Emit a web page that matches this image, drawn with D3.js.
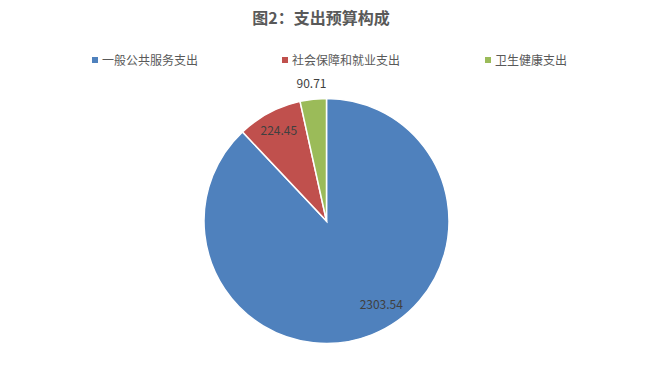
<!DOCTYPE html>
<html>
<head>
<meta charset="utf-8">
<script src="https://cdn.jsdelivr.net/npm/d3@7"></script>
<style>
  body { margin: 0; background: #fff; }
  text { font-family: "Noto Sans CJK SC", "Microsoft YaHei", sans-serif; }
</style>
</head>
<body>
<div id="chart"></div>
<script>
// data
var categories = ["一般公共服务支出", "社会保障和就业支出", "卫生健康支出"];
var values = [2303.54, 224.45, 90.71];
var colors = ["#4F81BD", "#C0504D", "#9BBB59"];

var width = 654, height = 377;
var cx = 326.5, cy = 221, radius = 122.5;

var svg = d3.select("#chart")
  .append("svg")
    .attr("width", width)
    .attr("height", height);

// title
svg.append("text")
    .attr("x", width / 2 - 6)
    .attr("y", 24)
    .attr("text-anchor", "middle")
    .style("font-size", "16px")
    .style("font-weight", "bold")
    .style("fill", "#595959")
    .text("图2：支出预算构成");

// legend
var legendX = [92, 282, 485];
var legend = svg.append("g")
  .selectAll("g")
  .data(categories)
  .enter()
  .append("g")
    .attr("transform", function(d, i) { return "translate(" + legendX[i] + ",57)"; });

legend.append("rect")
    .attr("width", 6)
    .attr("height", 6)
    .style("fill", function(d, i) { return colors[i]; });

legend.append("text")
    .attr("x", 10)
    .attr("y", 7.5)
    .style("font-size", "12px")
    .style("fill", "#595959")
    .text(function(d) { return d; });

// pie
var pie = d3.pie().sort(null);
var arcs = pie(values);
var arc = d3.arc().innerRadius(0).outerRadius(radius);

var g = svg.append("g")
    .attr("transform", "translate(" + cx + "," + cy + ")");

g.selectAll("path")
  .data(arcs)
  .enter()
  .append("path")
    .attr("d", arc)
    .style("fill", function(d, i) { return colors[i]; })
    .style("stroke", "#fff")
    .style("stroke-width", 1.5);

// data labels (best-fit style placement)
var labelFrac = [0.4635, 0.5, 0.5];
var labelR = [100, 102, 138];
g.selectAll(".lbl")
  .data(arcs)
  .enter()
  .append("text")
    .attr("class", "lbl")
    .attr("text-anchor", "middle")
    .attr("dy", "0.35em")
    .attr("x", function(d, i) {
      var a = d.startAngle + labelFrac[i] * (d.endAngle - d.startAngle);
      return labelR[i] * Math.sin(a);
    })
    .attr("y", function(d, i) {
      var a = d.startAngle + labelFrac[i] * (d.endAngle - d.startAngle);
      return -labelR[i] * Math.cos(a);
    })
    .style("font-size", "12px")
    .style("fill", "#404040")
    .text(function(d) { return d.data.toFixed(2); });
</script>
</body>
</html>
